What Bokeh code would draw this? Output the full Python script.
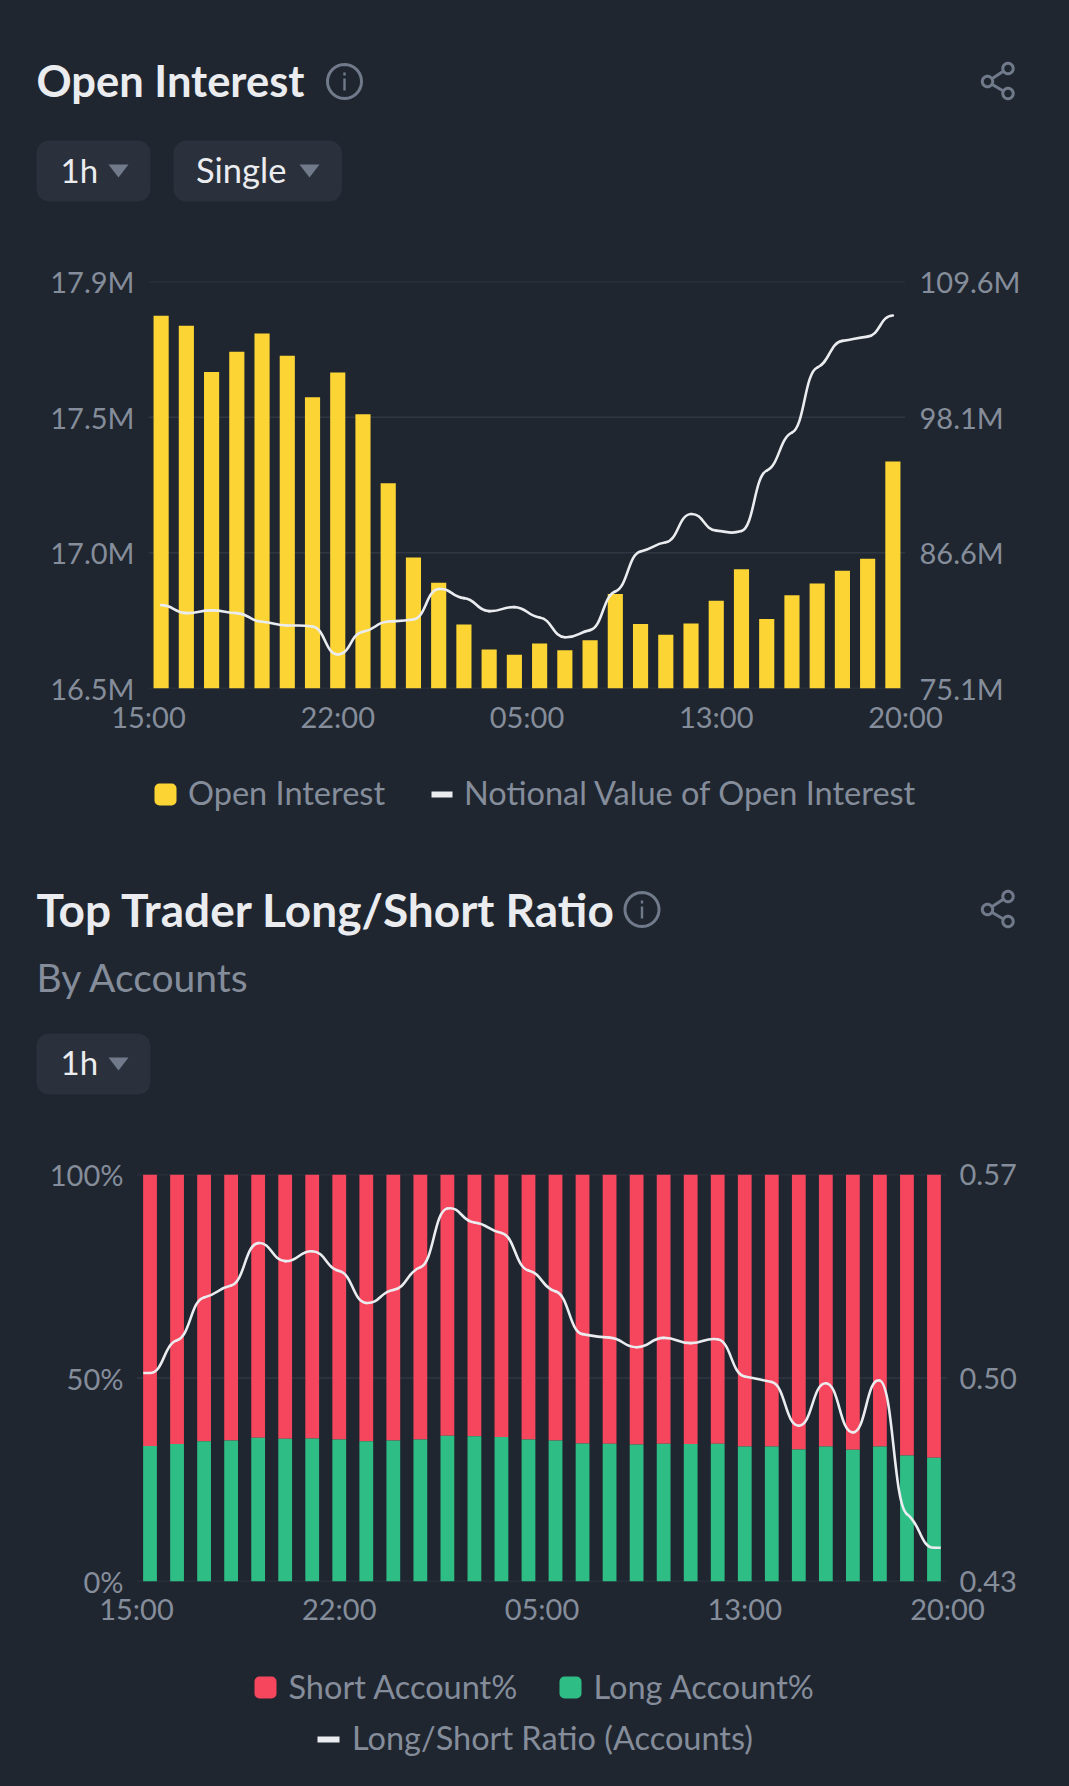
import math
from bokeh.embed import file_html
from bokeh.resources import INLINE
from bokeh.layouts import column
from bokeh.plotting import figure
from bokeh.models import (Range1d, LinearAxis, FixedTicker, Label, BoxAnnotation, PolyAnnotation, Span)

FONT = "Lato"
BG = "#1F2630"
PILL = "#2A313C"
GRID = "#303743"
GREY = "#858D9B"
ICON = "#707A8A"
LIGHT = "#EAECEF"
YELLOW = "#FCD535"
RED = "#F6465D"
GREEN = "#2EBD85"

# ---- data -----------------------------------------------------------------
x_tick_labels = ["15:00", "22:00", "05:00", "13:00", "20:00"]
oi_left_labels = ["16.5M", "17.0M", "17.5M", "17.9M"]
oi_right_labels = ["75.1M", "86.6M", "98.1M", "109.6M"]
ls_left_labels = ["0%", "50%", "100%"]
ls_right_labels = ["0.43", "0.50", "0.57"]

open_interest = [17.782, 17.748, 17.589, 17.658, 17.721, 17.645, 17.502, 17.587, 17.443, 17.206,
                 16.951, 16.864, 16.720, 16.634, 16.616, 16.655, 16.632, 16.666, 16.825, 16.722,
                 16.685, 16.724, 16.802, 16.910, 16.739, 16.821, 16.861, 16.905, 16.946, 17.281]
notional = [82.17, 81.49, 81.72, 81.49, 80.76, 80.44, 80.36, 77.98, 79.91, 80.78,
            80.95, 83.53, 82.76, 81.66, 82.00, 81.12, 79.45, 80.05, 83.33, 86.72,
            87.49, 89.89, 88.48, 88.45, 93.57, 96.79, 102.30, 104.57, 104.93, 106.72]
long_pct = [33.28, 33.77, 34.43, 34.67, 35.33, 35.08, 35.16, 34.92, 34.43, 34.67,
            34.92, 35.82, 35.66, 35.49, 34.92, 34.67, 33.93, 33.85, 33.69, 33.85,
            33.77, 33.85, 33.20, 33.20, 32.46, 33.20, 32.38, 33.20, 30.98, 30.41]
short_pct = [66.72, 66.23, 65.57, 65.33, 64.67, 64.92, 64.84, 65.08, 65.57, 65.33,
             65.08, 64.18, 64.34, 64.51, 65.08, 65.33, 66.07, 66.15, 66.31, 66.15,
             66.23, 66.15, 66.80, 66.80, 67.54, 66.80, 67.62, 66.80, 69.02, 69.59]
ratio = [0.5017, 0.5130, 0.5277, 0.5318, 0.5464, 0.5402, 0.5436, 0.5368, 0.5258, 0.5303,
         0.5381, 0.5583, 0.5535, 0.5499, 0.5370, 0.5298, 0.5151, 0.5139, 0.5106, 0.5138,
         0.5120, 0.5133, 0.5005, 0.4986, 0.4836, 0.4982, 0.4813, 0.4991, 0.4532, 0.4416]

idx = list(range(len(open_interest)))
x_ticks = [-0.5, 7, 14.5, 22, 29.5]

# ---- helpers --------------------------------------------------------------
def smooth_line(p, x, y, range_name=None, handle=0.5, tension=0.22):
    """Draw a smooth curve through the read values with Bokeh's bezier glyph."""
    n = len(x)
    m = [0.0] * n
    for i in range(1, n - 1):
        m[i] = tension * (y[i + 1] - y[i - 1]) / (x[i + 1] - x[i - 1])
    kw = dict(x0=x[:-1], y0=y[:-1], x1=x[1:], y1=y[1:],
              cx0=[x[i] + handle for i in range(n - 1)],
              cy0=[y[i] + m[i] * handle for i in range(n - 1)],
              cx1=[x[i + 1] - handle for i in range(n - 1)],
              cy1=[y[i + 1] - m[i + 1] * handle for i in range(n - 1)],
              line_color=LIGHT, line_width=2.6, line_cap="round")
    if range_name:
        kw["y_range_name"] = range_name
    p.bezier(**kw)

# Annotations in "screen" units are measured from the frame's lower left corner
# and only show inside the frame, so headers and legends sit in bands of their own:
# a band's frame fills it, and page pixels are converted with its page position
# f = (left, bottom).
def band(top, bottom):
    p = figure(width=1069, height=bottom - top, x_range=Range1d(0, 1069), y_range=Range1d(bottom, top),
               output_backend="svg", toolbar_location=None, x_axis_location=None, y_axis_location=None,
               background_fill_color=BG, border_fill_color=BG, outline_line_color=None,
               min_border_left=0, min_border_right=0, min_border_top=0, min_border_bottom=0,
               frame_align=False)
    p.grid.visible = False
    return p, (0, bottom)

def text(p, f, s, x, base, size, color, bold=False):
    p.add_layout(Label(x=x - f[0], y=f[1] - base + 0.37 * size, x_units="screen", y_units="screen", text=s,
                       text_font=FONT, text_font_size=f"{size}px", text_color=color,
                       text_baseline="alphabetic", text_align="left",
                       text_font_style="bold" if bold else "normal"))

def box(p, f, l, r, t, b, color, radius=0):
    p.add_layout(BoxAnnotation(left=l - f[0], right=r - f[0], top=f[1] - t, bottom=f[1] - b,
                               left_units="screen", right_units="screen",
                               top_units="screen", bottom_units="screen",
                               fill_color=color, fill_alpha=1, line_color=None,
                               border_radius=radius))

def poly(p, f, xs, ys, fill=None, line=None, lw=3):
    p.add_layout(PolyAnnotation(xs=[v - f[0] for v in xs], ys=[f[1] - v for v in ys],
                                xs_units="screen", ys_units="screen",
                                fill_color=fill, fill_alpha=1 if fill else 0,
                                line_color=line, line_width=lw, line_alpha=1 if line else 0))

def ring(p, f, cx, cy, r, color, lw=3):
    a = [2 * math.pi * i / 48 for i in range(48)]
    poly(p, f, [cx + r * math.cos(t) for t in a], [cy + r * math.sin(t) for t in a], line=color, lw=lw)

def info_icon(p, f, cx, cy):
    ring(p, f, cx, cy, 17, ICON)
    box(p, f, cx - 1.2, cx + 1.2, cy - 9, cy - 6, ICON)
    box(p, f, cx - 1.2, cx + 1.2, cy - 3, cy + 9, ICON)

def share_icon(p, f, cy):
    ring(p, f, 1007.5, cy - 13, 5.2, ICON)
    ring(p, f, 987, cy, 5.2, ICON)
    ring(p, f, 1007.5, cy + 12, 5.2, ICON)
    poly(p, f, [991.8, 1002.8], [cy - 3, cy - 10.2], line=ICON)
    poly(p, f, [991.8, 1002.8], [cy + 3, cy + 9.5], line=ICON)

def pill(p, f, l, r, t, b, s, tx, base, tri_l, size):
    box(p, f, l, r, t, b, PILL, 13)
    text(p, f, s, tx, base, size, LIGHT)
    poly(p, f, [tri_l, tri_l + 20, tri_l + 10], [t + 24, t + 24, t + 37], fill=ICON)

def make_fig(height, left, right, top, bottom, x_range, y_range):
    return figure(width=1069, height=height, x_range=x_range, y_range=y_range,
                  output_backend="svg", toolbar_location=None,
                  background_fill_color=BG, border_fill_color=BG, outline_line_color=None,
                  min_border_left=left, min_border_right=right,
                  min_border_top=top, min_border_bottom=bottom, frame_align=False)

def style_axis(ax, standoff):
    ax.axis_line_color = None
    ax.major_tick_line_color = None
    ax.minor_tick_line_color = None
    ax.major_label_text_color = GREY
    ax.major_label_text_font = FONT
    ax.major_label_text_font_size = "29px"
    ax.major_label_standoff = standoff

def dress(p, left_vals, left_labels, right_vals, right_labels, right_range, so):
    p.extra_y_ranges = {"right": right_range}
    p.xaxis.ticker = FixedTicker(ticks=x_ticks)
    p.xaxis.major_label_overrides = dict(zip(x_ticks, x_tick_labels))
    style_axis(p.xaxis[0], so[0])
    p.yaxis.ticker = FixedTicker(ticks=left_vals)
    p.yaxis.major_label_overrides = dict(zip(left_vals, left_labels))
    style_axis(p.yaxis[0], so[1])
    ax = LinearAxis(y_range_name="right", ticker=FixedTicker(ticks=right_vals),
                    major_label_overrides=dict(zip(right_vals, right_labels)))
    style_axis(ax, so[2])
    p.add_layout(ax, "right")
    p.xgrid.visible = False
    p.ygrid.visible = False
    for v in left_vals:
        p.add_layout(Span(location=v, dimension="width", line_color=GRID, line_width=1.5, level="underlay"))

# ---- Open Interest: header ------------------------------------------------
h1, F = band(0, 230)
text(h1, F, "Open Interest", 36, 96, 43.5, LIGHT, True)
info_icon(h1, F, 344, 81)
share_icon(h1, F, 81)
pill(h1, F, 36, 150, 140, 201, "1h", 60, 182, 108, 33)
pill(h1, F, 173, 341.5, 140, 201, "Single", 195.5, 182, 299, 34.5)

# ---- Open Interest: chart (page y 230..745, frame 281..688) ---------------
p1 = make_fig(515, 148, 164, 51, 57, Range1d(-0.5, 29.5), Range1d(16.5, 17.9))
dress(p1, [16.5, 16.9667, 17.4333, 17.9], oi_left_labels,
      [75.1, 86.6, 98.1, 109.6], oi_right_labels, Range1d(75.1, 109.6), (4, 8, 8))
p1.vbar(x=idx, top=open_interest, bottom=16.5, width=0.6, fill_color=YELLOW, line_color=None)
smooth_line(p1, idx, notional, "right")

# ---- legend of the first chart and header of the second -------------------
h2, F = band(745, 1130)
box(h2, F, 154, 176, 783, 805, YELLOW, 5)
text(h2, F, "Open Interest", 187.5, 804, 32.5, GREY)
box(h2, F, 431, 452, 791, 797, LIGHT)
text(h2, F, "Notional Value of Open Interest", 463.5, 804, 32.5, GREY)
text(h2, F, "Top Trader Long/Short Ratio", 36, 926, 46, LIGHT, True)
info_icon(h2, F, 641.5, 909)
share_icon(h2, F, 909)
text(h2, F, "By Accounts", 36, 991, 39, GREY)
pill(h2, F, 36, 150, 1033, 1094, "1h", 60, 1074, 108, 33)

# ---- Top Trader Long/Short Ratio: chart (page y 1130..1650, frame 1174..1581)
p2 = make_fig(520, 136, 122, 44, 69, Range1d(-0.5, 29.5), Range1d(0, 100))
dress(p2, [0, 50, 100], ls_left_labels, [0.43, 0.50, 0.57], ls_right_labels,
      Range1d(0.43, 0.57), (3, 7, 6))
p2.vbar(x=idx, bottom=long_pct, top=[a + b for a, b in zip(long_pct, short_pct)], width=0.51,
        fill_color=RED, line_color=None)
p2.vbar(x=idx, bottom=0, top=long_pct, width=0.51, fill_color=GREEN, line_color=None)
smooth_line(p2, idx, ratio, "right")
p2.line([idx[0] - 0.25, idx[0]], [ratio[0], ratio[0]], y_range_name="right", line_color=LIGHT, line_width=2.6)
p2.line([idx[-1], idx[-1] + 0.25], [ratio[-1], ratio[-1]], y_range_name="right", line_color=LIGHT, line_width=2.6)

# ---- legend of the second chart -------------------------------------------
h3, F = band(1650, 1786)
box(h3, F, 254, 276, 1676, 1698, RED, 5)
text(h3, F, "Short Account%", 288, 1698, 32.5, GREY)
box(h3, F, 559, 581, 1676, 1698, GREEN, 5)
text(h3, F, "Long Account%", 593, 1698, 32.5, GREY)
box(h3, F, 317, 339, 1736, 1742, LIGHT)
text(h3, F, "Long/Short Ratio (Accounts)", 351.5, 1749, 32.5, GREY)

page = column(h1, p1, h2, p2, h3, spacing=0)
html = file_html(page, INLINE, title="Open Interest")
html = html.replace("<head>", f"<head><style>html,body{{background:{BG};margin:0;overflow:hidden}}</style>", 1)
open("out.html", "w").write(html)
